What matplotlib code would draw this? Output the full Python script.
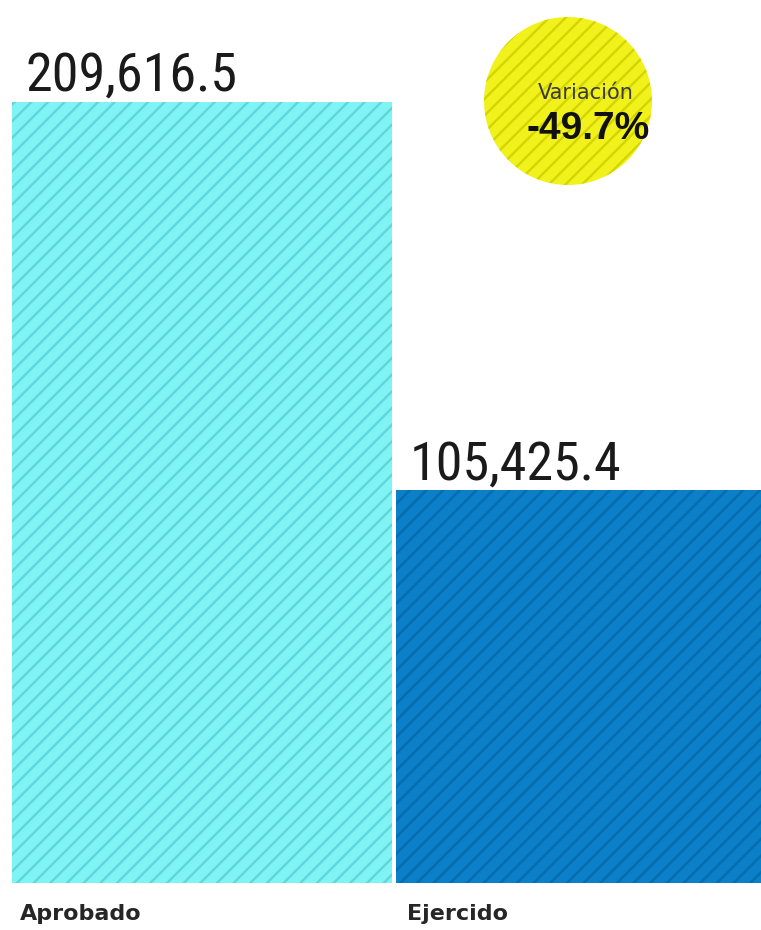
import matplotlib
matplotlib.use("Agg")
import matplotlib.pyplot as plt
import matplotlib.patches as patches

categories = ["Aprobado", "Ejercido"]
values = [209616.5, 105425.4]
value_labels = ["209,616.5", "105,425.4"]
variation_title = "Variación"
variation_text = "-49.7%"

bar_colors = ["#80f4f4", "#0b7fc8"]
hatch_colors = ["#5fd6dc", "#066cb0"]

W, H = 761, 930
fig = plt.figure(figsize=(W / 100, H / 100), dpi=100)
fig.patch.set_facecolor("white")
plt.rcParams["hatch.linewidth"] = 1.7

# main axes: baseline at y=883 px, bars start at x=12 px
base_px = 883
ax = fig.add_axes([12 / W, (H - base_px) / H, 1 - 12 / W, base_px / H])
ymax = values[0] * base_px / 781
ax.set_ylim(0, ymax)
ax.set_xlim(0, 1.96)
ax.axis("off")

for i, v in enumerate(values):
    ax.bar(i * 1.005, v, width=0.995, align="edge", color=bar_colors[i],
           edgecolor=hatch_colors[i], linewidth=0, hatch="//")

num_font = ["Noto Sans ExtraCondensed", "Noto Sans Condensed", "Roboto Condensed",
            "Open Sans Condensed", "Liberation Sans Narrow", "Liberation Sans"]
num_texts = []
for i, v in enumerate(values):
    t = ax.text(i * 1.005 + 0.035, v + ymax * 11 / base_px, value_labels[i], fontsize=40,
                family=num_font, stretch="condensed", color="#1a1a1a",
                ha="left", va="baseline")
    num_texts.append(t)

# fit the value labels to about the width they have in the source
fig.canvas.draw()
renderer = fig.canvas.get_renderer()
for t in num_texts:
    w = t.get_window_extent(renderer).width
    t.set_fontsize(40 * 212 / w)

# category labels below the bars
fig.text(20 / W, 1 - 914 / H, categories[0], fontsize=16, weight="bold",
         color="#262626", ha="left", va="center", family="DejaVu Sans")
fig.text(407 / W, 1 - 914 / H, categories[1], fontsize=16, weight="bold",
         color="#262626", ha="left", va="center", family="DejaVu Sans")

# yellow variation badge
cx, cy, r = 568, 101, 84
cax = fig.add_axes([(cx - r) / W, (H - cy - r) / H, 2 * r / W, 2 * r / H])
cax.set_xlim(-1, 1)
cax.set_ylim(-1, 1)
cax.axis("off")
cax.add_patch(patches.Circle((0, 0), 1, facecolor="#f1f11c", edgecolor="#d4d400",
                             linewidth=0, hatch="//"))
fig.text(586 / W, 1 - 93 / H, variation_title, fontsize=15, color="#3a3a3a",
         ha="center", va="center", family="DejaVu Sans")
fig.text(588 / W, 1 - 129 / H, variation_text, fontsize=28, weight="bold",
         color="#111111", ha="center", va="center", family="Liberation Sans")

fig.savefig("out.png", dpi=100)
